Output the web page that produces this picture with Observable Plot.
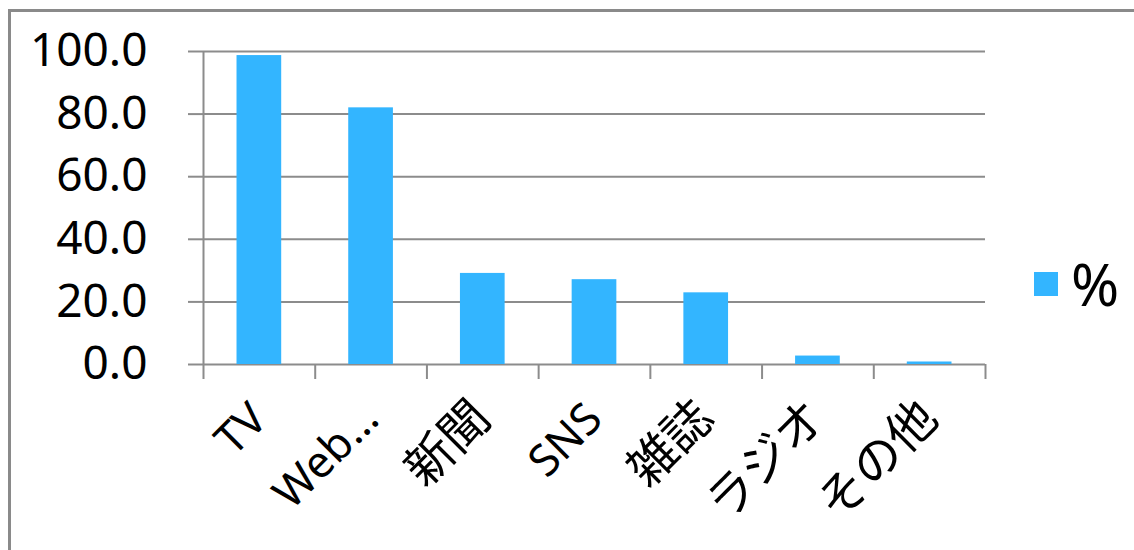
<!DOCTYPE html>
<html>
<head>
<meta charset="utf-8">
<script src="https://cdn.jsdelivr.net/npm/d3@7"></script>
<script src="https://cdn.jsdelivr.net/npm/@observablehq/plot@0.6"></script>
<style>
  @font-face {
    font-family: "JPBig";
    src: local("Noto Sans CJK JP"), local("Noto Sans CJK JP Regular"), local("NotoSansCJKjp-Regular");
    size-adjust: 110%;
    unicode-range: U+3000-30FF, U+4E00-9FFF, U+FF00-FFEF;
  }
  html, body { margin: 0; padding: 0; background: #fff; overflow: hidden; }
  body { width: 1134px; height: 550px; position: relative; font-family: "Noto Sans", "Noto Sans CJK JP", sans-serif; }
  #frame { position: absolute; left: 8px; top: 9px; width: 1200px; height: 600px; border-left: 3px solid #8a8a8a; border-top: 3px solid #8a8a8a; box-sizing: border-box; }
  #chart { position: absolute; left: 0; top: 0; }
  #legend { position: absolute; left: 1034px; top: 256px; display: flex; align-items: center; gap: 13px; }
  #legend .sw { width: 24px; height: 24px; background: #33b5ff; }
  #legend .lb { font-size: 58px; line-height: 56px; color: #000; }
</style>
</head>
<body>
<div id="frame"></div>
<div id="chart"></div>
<div id="legend"><div class="sw"></div><div class="lb">%</div></div>
<script>
const categories = ["TV", "Web…", "新聞", "SNS", "雑誌", "ラジオ", "その他"];
const values = [98.7, 82.0, 29.1, 27.1, 22.9, 2.7, 0.8];
const yTicks = [0, 20, 40, 60, 80, 100];
const seriesName = "%";

const data = categories.map((c, i) => ({cat: c, value: values[i]}));

const W = 1134, H = 550;
const mL = 203, mR = 149, mT = 51, mB = 186;
const step = (W - mL - mR) / categories.length;
const gray = "#8c8c8c";

const chart = Plot.plot({
  width: W,
  height: H,
  marginLeft: mL,
  marginRight: mR,
  marginTop: mT,
  marginBottom: mB,
  style: {fontFamily: '"Noto Sans", "JPBig", "Noto Sans CJK JP", sans-serif', color: "#000", background: "transparent", overflow: "visible"},
  x: {domain: categories, paddingInner: 0.6, paddingOuter: 0.3, round: false, axis: null},
  y: {domain: [0, 100], axis: null},
  marks: [
    Plot.gridY(yTicks, {stroke: gray, strokeOpacity: 1, strokeWidth: 2}),
    Plot.axisY(yTicks, {tickSize: 15, tickPadding: 41, tickFormat: d => d.toFixed(1), fontSize: 46, stroke: gray, strokeWidth: 2, fill: "#000", label: null}),
    Plot.barY(data, {x: "cat", y: "value", fill: "#33b5ff"}),
    Plot.ruleX([categories[0]], {x: d => d, dx: -step / 2, insetBottom: -15, stroke: gray, strokeWidth: 2}),
    Plot.ruleX(categories.slice(1), {x: d => d, y1: 0, y2: 0, insetBottom: -15, dx: -step / 2, stroke: gray, strokeWidth: 2}),
    Plot.ruleX([categories[categories.length - 1]], {x: d => d, y1: 0, y2: 0, insetBottom: -15, dx: step / 2, stroke: gray, strokeWidth: 2}),
    Plot.text(categories, {x: d => d, y: 0, text: d => d, rotate: -45, textAnchor: "end", lineAnchor: "bottom", dx: 10, dy: 57, fontSize: 44, fill: "#000"})
  ]
});
document.getElementById("chart").appendChild(chart);
</script>
</body>
</html>
